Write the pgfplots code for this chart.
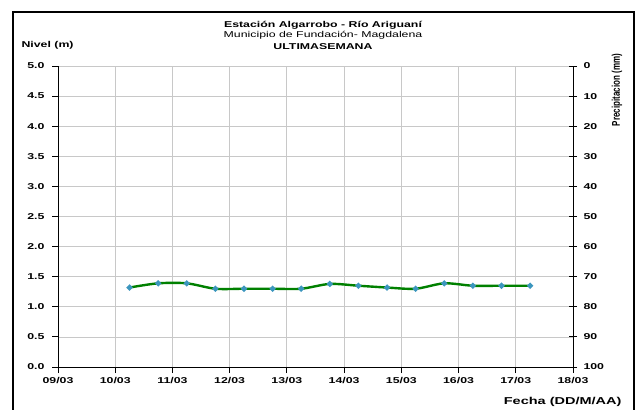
\documentclass[border=0pt]{standalone}
\usepackage{fontspec}
\setmainfont{Liberation Sans}
\newfontfamily\wide{Liberation Sans}[FakeStretch=1.45]
\usepackage{graphicx}
\usepackage{pgfplots}
\pgfplotsset{compat=1.18}
\definecolor{gridgray}{RGB}{200,200,200}
\definecolor{lvgreen}{RGB}{0,128,0}
\definecolor{mk}{RGB}{60,150,190}
\newcommand{\fs}{\fontsize{8.5}{10}\selectfont}
\begin{document}
\begin{tikzpicture}[x=1pt,y=1pt]
\useasboundingbox (0,0) rectangle (638,410);
\draw[line width=2pt] (13,-5) -- (13,398) -- (634,398) -- (634,-5);
\node[font=\fs\wide\bfseries, anchor=base] at (323,382.5) {Estación Algarrobo - Río Ariguaní};
\node[font=\fs\wide, anchor=base] at (323,372) {Municipio de Fundación- Magdalena};
\node[font=\fs\wide\bfseries, anchor=base] at (323,360.5) {ULTIMASEMANA};
\node[font=\fs\wide\bfseries, anchor=base west] at (18,362) {Nivel (m)};
\node[font=\fontsize{10}{11}\selectfont\wide\bfseries, anchor=east] at (625,8) {Fecha (DD/M/AA)};
\node[rotate=90, inner sep=0pt] at (617,320) {\scalebox{1}[1.4]{\fontsize{8}{9}\selectfont\bfseries Precipitacion (mm)}};
\begin{axis}[
  at={(58pt,43pt)}, anchor=south west, scale only axis,
  width=515pt, height=301pt,
  xmin=0, xmax=9, ymin=0, ymax=5,
  axis x line*=bottom, axis y line*=left,
  xtick={0,...,9},
  xticklabels={09/03,10/03,11/03,12/03,13/03,14/03,15/03,16/03,17/03,18/03},
  ytick={0,0.5,...,5},
  yticklabel style={/pgf/number format/fixed, /pgf/number format/fixed zerofill, /pgf/number format/precision=1, xshift=-4pt},
  xticklabel style={yshift=-1pt},
  /pgf/number format/assume math mode=true,
  tick align=outside, major tick length=6pt,
  ticklabel style={font=\fs\wide\bfseries},
  grid=major, grid style={gridgray, line width=0.8pt},
  axis line style={black, line width=0.9pt},
  tick style={black, line width=0.9pt},
]
\addplot[lvgreen, line width=2.4pt, smooth, tension=0.5,
  mark=*, mark size=1.6pt, mark options={fill=mk, draw=mk}]
  coordinates {
  (1.25,1.32) (1.75,1.39) (2.25,1.39) (2.75,1.30) (3.25,1.30)
  (3.75,1.30) (4.25,1.30) (4.75,1.38) (5.25,1.35) (5.75,1.32)
  (6.25,1.30) (6.75,1.39) (7.25,1.35) (7.75,1.35) (8.25,1.35)
  };
\end{axis}
\begin{axis}[
  at={(58pt,43pt)}, anchor=south west, scale only axis,
  width=515pt, height=301pt,
  xmin=0, xmax=9, ymin=0, ymax=100, y dir=reverse,
  axis x line=none, axis y line*=right,
  ytick={0,10,...,100},
  /pgf/number format/assume math mode=true,
  tick align=center, major tick length=8pt,
  yticklabel style={xshift=3pt},
  ticklabel style={font=\fs\wide\bfseries},
  axis line style={black, line width=0.9pt},
  tick style={black, line width=0.9pt},
]
\addplot[draw=none] coordinates {(0,0)};
\end{axis}
\end{tikzpicture}
\end{document}
